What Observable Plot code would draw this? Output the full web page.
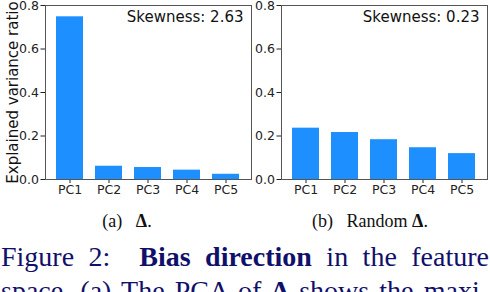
<!DOCTYPE html>
<html>
<head>
<meta charset="utf-8">
<script src="https://cdn.jsdelivr.net/npm/d3@7"></script>
<script src="https://cdn.jsdelivr.net/npm/@observablehq/plot@0.6"></script>
<style>
  html, body { margin: 0; padding: 0; background: white; }
  #wrap { position: relative; width: 490px; height: 292px; overflow: hidden; background: white; }
  .panel { position: absolute; top: 0; }
  .panel svg { overflow: visible; }
  .cap { position: absolute; font-family: "Liberation Serif", "Times New Roman", serif; font-size: 18px; line-height: 20px; color: #111; text-align: center; width: 200px; white-space: nowrap; }
  .fig { position: absolute; left: 1px; width: 488px; font-family: "Liberation Serif", "Times New Roman", serif; font-size: 28px; line-height: 34px; color: #10106a; text-align: justify; text-align-last: justify; white-space: nowrap; }
</style>
</head>
<body>
<div id="wrap">
  <div class="panel" id="left" style="left:0px"></div>
  <div class="panel" id="right" style="left:255px"></div>
  <div class="cap" style="left:27px; top:211px">(a)&nbsp;&nbsp;&nbsp;<b>Δ</b>.</div>
  <div class="cap" style="left:270px; top:211px">(b)&nbsp;&nbsp;&nbsp;Random&nbsp;<b>Δ</b>.</div>
  <div class="fig" style="top:240px">Figure 2:&nbsp; <b>Bias direction</b> in the feature</div>
  <div class="fig" style="top:274px">space. (a) The PCA of <b>Δ</b> shows the maxi-</div>
</div>
<script>
const categories = ["PC1", "PC2", "PC3", "PC4", "PC5"];
const deltaValues = [0.748, 0.061, 0.055, 0.043, 0.024];
const randomValues = [0.236, 0.216, 0.183, 0.146, 0.119];
const yTicks = [0, 0.2, 0.4, 0.6, 0.8];
const skewLeft = "Skewness: 2.63";
const skewRight = "Skewness: 0.23";
const yLabel = "Explained variance ratio";

function chart(values, skew, opts) {
  const data = categories.map((c, i) => ({pc: c, v: values[i]}));
  const marks = [
    Plot.barY(data, {x: "pc", y: "v", fill: "#1e8ffe"}),
    Plot.frame({stroke: "#555", strokeWidth: 1}),
    Plot.text([skew], {frameAnchor: "top-right", dx: -8, dy: 6, lineAnchor: "top", textAnchor: "end", fontSize: 15, fill: "#111", text: d => d})
  ];
  if (opts.ylabel) {
    marks.push(Plot.text([opts.ylabel], {frameAnchor: "left", rotate: -90, dx: -32, textAnchor: "middle", lineAnchor: "middle", fontSize: 15, fill: "#111", text: d => d}));
  }
  return Plot.plot({
    width: opts.width,
    height: 200,
    marginLeft: opts.marginLeft,
    marginRight: opts.marginRight,
    marginTop: 5,
    marginBottom: 21,
    style: {fontFamily: "DejaVu Sans", fontSize: "12.5px", color: "#222", background: "white", overflow: "visible"},
    x: {domain: categories, paddingInner: 0.3, paddingOuter: 0.24, tickSize: 4, tickPadding: 2, label: null},
    y: {domain: [0, 0.8], ticks: yTicks, tickFormat: d3.format(".1f"), tickSize: 4.5, tickPadding: 2, label: null},
    marks
  });
}

document.getElementById("left").append(chart(deltaValues, skewLeft, {width: 255, marginLeft: 45, marginRight: 4, ylabel: yLabel}));
document.getElementById("right").append(chart(randomValues, skewRight, {width: 235, marginLeft: 26, marginRight: 3}));
</script>
</body>
</html>
